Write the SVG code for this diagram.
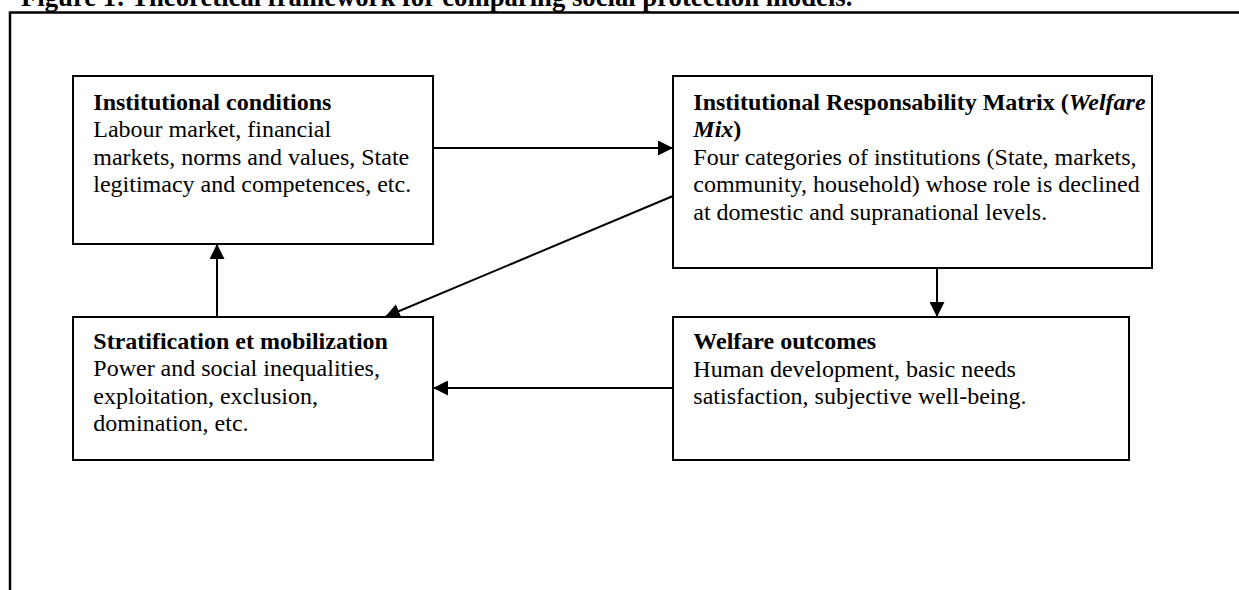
<svg xmlns="http://www.w3.org/2000/svg" width="1239" height="590" viewBox="0 0 1239 590">
<style>
text{font-family:"Liberation Serif","Times New Roman",serif;font-size:24px;fill:#000}
.b{font-weight:bold}
.bi{font-weight:bold;font-style:italic}
.box{fill:#fff;stroke:#000;stroke-width:2}
.conn{stroke:#000;stroke-width:2;fill:none;marker-end:url(#ah)}
</style>
<defs>
<marker id="ah" markerUnits="userSpaceOnUse" markerWidth="15" markerHeight="15" refX="15" refY="7.5" orient="auto">
<path d="M0,0 L15,7.5 L0,15 z" fill="#000"/>
</marker>
</defs>
<rect width="1239" height="590" fill="#fff"/>
<text class="b" x="21" y="5.5" style="font-size:26.7px">Figure 1: Theoretical framework for comparing social protection models.</text>
<path d="M10,590 L10,12.5 L1239,12.5" fill="none" stroke="#000" stroke-width="2.5"/>
<g id="n1">
<rect class="box" x="73" y="76" width="360" height="168"/>
<text x="93.3" y="109.5" class="b">Institutional conditions</text>
<text x="93.3" y="137">Labour market, financial</text>
<text x="93.3" y="164.5">markets, norms and values, State</text>
<text x="93.3" y="192">legitimacy and competences, etc.</text>
</g>
<g id="n2">
<rect class="box" x="673" y="76" width="479" height="192"/>
<text x="693.3" y="109.5" class="b">Institutional Responsability Matrix (<tspan class="bi">Welfare</tspan></text>
<text x="693.3" y="137" class="b"><tspan class="bi">Mix</tspan>)</text>
<text x="693.3" y="164.5">Four categories of institutions (State, markets,</text>
<text x="693.3" y="192">community, household) whose role is declined</text>
<text x="693.3" y="219.5">at domestic and supranational levels.</text>
</g>
<g id="n3">
<rect class="box" x="73" y="317" width="360" height="143"/>
<text x="93.3" y="348.5" class="b">Stratification et mobilization</text>
<text x="93.3" y="376">Power and social inequalities,</text>
<text x="93.3" y="403.5">exploitation, exclusion,</text>
<text x="93.3" y="431">domination, etc.</text>
</g>
<g id="n4">
<rect class="box" x="673" y="317" width="456" height="143"/>
<text x="693.3" y="349" class="b">Welfare outcomes</text>
<text x="693.3" y="376.5">Human development, basic needs</text>
<text x="693.3" y="404">satisfaction, subjective well-being.</text>
</g>
<g id="connectors">
<line class="conn" x1="433" y1="148" x2="673" y2="148"/>
<line class="conn" x1="937" y1="268" x2="937" y2="317"/>
<line class="conn" x1="217" y1="317" x2="217" y2="244"/>
<line class="conn" x1="673" y1="196" x2="385" y2="317"/>
<line class="conn" x1="673" y1="388" x2="433" y2="388"/>
</g>
</svg>
